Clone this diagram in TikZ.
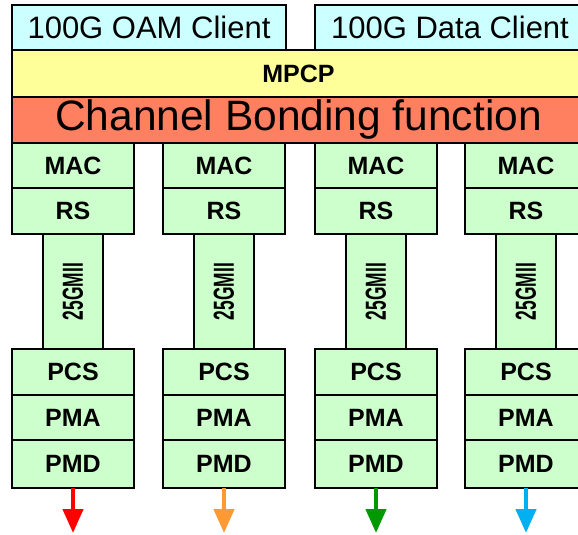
\documentclass[tikz,border=0pt]{standalone}
\usepackage{graphicx}
\usepackage{fontspec}
\setmainfont{Liberation Sans}
\usetikzlibrary{arrows.meta,positioning}
\definecolor{clientcyan}{HTML}{CCFFFF}
\definecolor{mpcpyellow}{HTML}{FFFF99}
\definecolor{bondsalmon}{HTML}{FF8060}
\definecolor{layergreen}{HTML}{CCFFCC}
\definecolor{arrowred}{HTML}{FF0000}
\definecolor{arroworange}{HTML}{FF9933}
\definecolor{arrowgreen}{HTML}{009900}
\definecolor{arrowblue}{HTML}{00B0F0}

\begin{document}
\begin{tikzpicture}[x=1pt,y=-1pt,
    box/.style={draw,line width=1.5pt,rectangle,inner sep=0pt,outer sep=0pt,anchor=north west},
    client/.style={box,fill=clientcyan,minimum height=45pt,font=\fontsize{31}{31}\selectfont},
    layer/.style={box,fill=layergreen,minimum width=122pt,font=\fontsize{25}{25}\selectfont\bfseries},
    mii/.style={box,fill=layergreen,minimum width=60pt,minimum height=115pt,font=\fontsize{29}{29}\selectfont\bfseries},
    link/.style={line width=4.5pt,-{Triangle[length=24pt,width=20pt]}}
]
    \useasboundingbox (0,0) rectangle (578,535);

    % clients and common sublayers
    \node[client,minimum width=274pt] (oam) at (12,5) {100G OAM Client};
    \node[client,minimum width=270pt] (data) at (315,5) {100G Data Client};
    \node[box,fill=mpcpyellow,minimum width=573pt,minimum height=47pt,
          font=\fontsize{25}{25}\selectfont\bfseries] (mpcp) at (12,50) {MPCP};
    \node[box,fill=bondsalmon,minimum width=573pt,minimum height=46pt,
          font=\fontsize{42.5}{42.5}\selectfont] (bond) at (12,97) {Channel Bonding function};

    % one stack per channel
    \foreach \i/\x/\c in {1/12/arrowred,2/163/arroworange,3/315/arrowgreen,4/465/arrowblue}{
        \node[layer,minimum height=45pt] (mac\i) at (\x,143) {MAC};
        \node[layer,minimum height=46pt,below=0pt of mac\i] (rs\i) {RS};
        \node[mii,below=0pt of rs\i] (mii\i) {\rotatebox{90}{\scalebox{0.6}[1]{25GMII}}};
        \node[layer,minimum height=46pt,below=0pt of mii\i] (pcs\i) {PCS};
        \node[layer,minimum height=45pt,below=0pt of pcs\i] (pma\i) {PMA};
        \node[layer,minimum height=48pt,below=0pt of pma\i] (pmd\i) {PMD};
        \coordinate[below=45pt of pmd\i] (out\i);
        \draw[link,\c] (pmd\i) -- (out\i);
    }
\end{tikzpicture}
\end{document}
